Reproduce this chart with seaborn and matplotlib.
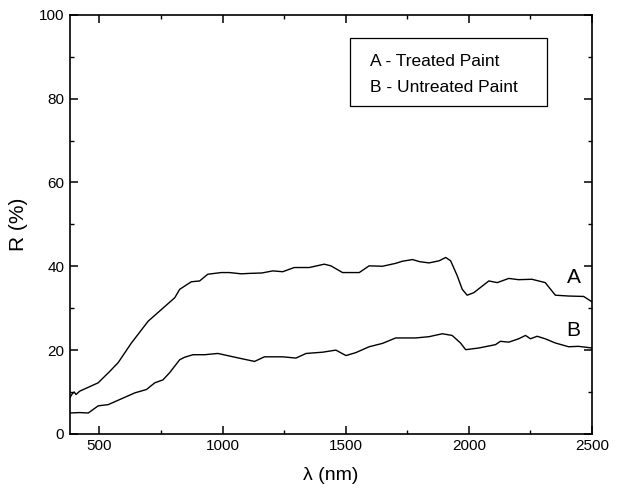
import matplotlib
matplotlib.use("Agg")
import matplotlib.pyplot as plt
from matplotlib.patches import Rectangle
from matplotlib.ticker import MultipleLocator
import seaborn as sns

# Curve A - Treated Paint
wl_a = [380, 390, 398, 405, 420, 450, 495, 540, 576, 630, 698, 752, 806, 826, 873, 907,
        940, 995, 1028, 1076, 1109, 1160, 1204, 1244, 1291, 1352, 1413, 1440, 1487, 1555,
        1595, 1649, 1703, 1730, 1771, 1800, 1838, 1879, 1906, 1926, 1953, 1973, 1993,
        2020, 2081, 2115, 2162, 2202, 2256, 2310, 2351, 2405, 2466, 2500]
r_a = [8.6, 9.6, 10.0, 9.4, 10.2, 11.0, 12.2, 14.8, 17.0, 21.7, 26.9, 29.7, 32.5, 34.5, 36.3, 36.5,
       38.1, 38.5, 38.5, 38.2, 38.3, 38.4, 38.9, 38.7, 39.7, 39.7, 40.5, 40.1, 38.5, 38.5,
       40.1, 40.0, 40.7, 41.2, 41.6, 41.1, 40.8, 41.3, 42.1, 41.3, 37.7, 34.5, 33.1,
       33.7, 36.5, 36.1, 37.1, 36.8, 36.9, 36.1, 33.1, 32.9, 32.8, 31.5]

# Curve B - Untreated Paint
wl_b = [380, 420, 455, 495, 536, 590, 644, 691, 725, 758, 785, 826, 846, 880, 927, 981,
        1035, 1082, 1130, 1170, 1244, 1298, 1339, 1406, 1460, 1501, 1541, 1595, 1649,
        1703, 1784, 1838, 1892, 1932, 1966, 1987, 2040, 2108, 2128, 2162, 2202, 2230,
        2250, 2277, 2310, 2351, 2405, 2445, 2500]
r_b = [5.0, 5.1, 5.0, 6.7, 7.0, 8.4, 9.8, 10.6, 12.2, 12.9, 14.6, 17.7, 18.3, 18.9, 18.9, 19.2,
       18.5, 17.9, 17.3, 18.4, 18.4, 18.1, 19.2, 19.5, 20.0, 18.7, 19.4, 20.8, 21.6,
       22.9, 22.9, 23.2, 23.9, 23.5, 21.7, 20.1, 20.5, 21.3, 22.1, 21.9, 22.7, 23.5,
       22.7, 23.3, 22.7, 21.7, 20.8, 20.9, 20.5]

legend_lines = ["A - Treated Paint", "B - Untreated Paint"]
curve_labels = ["A", "B"]
label_pos = [(2425, 37.3), (2425, 24.6)]

sns.set_theme(style="ticks")
plt.rcParams["font.family"] = ["Liberation Sans", "DejaVu Sans"]

fig = plt.figure(figsize=(6.18, 4.92), dpi=100)
ax = fig.add_axes([0.113, 0.118, 0.845, 0.852])

sns.lineplot(x=wl_a, y=r_a, ax=ax, color="black", linewidth=1.0, estimator=None, sort=False)
sns.lineplot(x=wl_b, y=r_b, ax=ax, color="black", linewidth=1.0, estimator=None, sort=False)

ax.set_xlim(380, 2500)
ax.set_ylim(0, 100)
ax.xaxis.set_major_locator(MultipleLocator(500))
ax.xaxis.set_minor_locator(MultipleLocator(250))
ax.yaxis.set_major_locator(MultipleLocator(20))
ax.yaxis.set_minor_locator(MultipleLocator(10))
ax.tick_params(which="both", direction="in", top=True, right=True, colors="black",
               labelsize=11, pad=4)
ax.tick_params(which="major", length=6, width=1.1)
ax.tick_params(which="minor", length=3, width=1.0)
for s in ax.spines.values():
    s.set_linewidth(1.2)
    s.set_color("black")

ax.set_xlabel("λ (nm)", fontsize=14, labelpad=10, color="black")
ax.set_ylabel("R (%)", fontsize=15, labelpad=8, color="black")

ax.add_patch(Rectangle((0.536, 0.783), 0.378, 0.162, transform=ax.transAxes,
                       fill=False, edgecolor="black", linewidth=0.9))
ax.text(0.575, 0.888, legend_lines[0], transform=ax.transAxes, fontsize=12.5,
        va="center", ha="left", color="black")
ax.text(0.575, 0.826, legend_lines[1], transform=ax.transAxes, fontsize=12.5,
        va="center", ha="left", color="black")

for lab, (xx, yy) in zip(curve_labels, label_pos):
    ax.text(xx, yy, lab, fontsize=15, ha="center", va="center", color="black")

fig.savefig("out.png", dpi=100)
